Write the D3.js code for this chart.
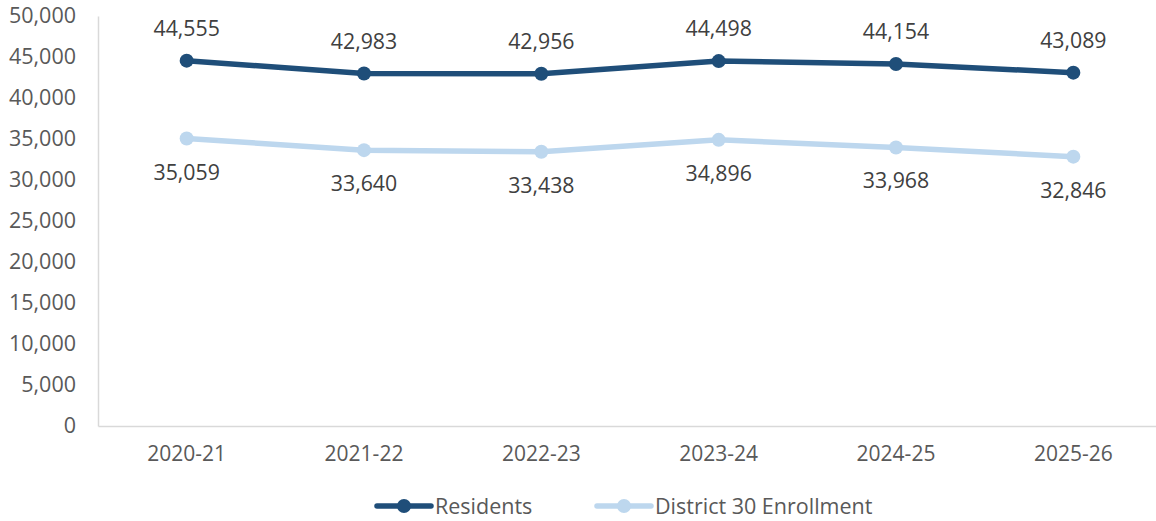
<!DOCTYPE html>
<html>
<head>
<meta charset="utf-8">
<script src="https://cdn.jsdelivr.net/npm/d3@7"></script>
<style>
  body { margin: 0; background: #fff; }
  svg { display: block; }
  svg text { font-family: "Open Sans", sans-serif; }
</style>
</head>
<body>
<div class="chart"></div>
<script>
// chart values
const years = ['2020-21', '2021-22', '2022-23', '2023-24', '2024-25', '2025-26'];
const residents = [44555, 42983, 42956, 44498, 44154, 43089];
const enrollment = [35059, 33640, 33438, 34896, 33968, 32846];
const yTicks = [0, 5000, 10000, 15000, 20000, 25000, 30000, 35000, 40000, 45000, 50000];
const seriesNames = ['Residents', 'District 30 Enrollment'];

const width = 1156, height = 521;
const margin = {top: 16, left: 98, right: -6, bottom: 95};

const svg = d3.select('.chart').append('svg')
    .attr('width', width)
    .attr('height', height);

const x = d3.scaleBand()
    .domain(years)
    .range([margin.left, width - margin.right]);

const y = d3.scaleLinear()
    .domain([0, 50000])
    .range([height - margin.bottom, margin.top]);

const fmt = d3.format(',');

// y axis
const yAxis = svg.append('g')
    .attr('transform', `translate(${margin.left},0)`)
    .call(d3.axisLeft(y).tickValues(yTicks).tickFormat(fmt).tickSize(0).tickPadding(22));
yAxis.attr('font-family', null);
yAxis.select('.domain').attr('stroke', '#d9d9d9').attr('stroke-width', 1.5);
yAxis.selectAll('text')
    .style('font-size', '21.5px')
    .attr('fill', '#595959');

// x axis
const xAxis = svg.append('g')
    .attr('transform', `translate(0,${y(0)})`)
    .call(d3.axisBottom(x).tickSize(0).tickPadding(20));
xAxis.attr('font-family', null);
xAxis.select('.domain').attr('stroke', '#d9d9d9').attr('stroke-width', 1.5);
xAxis.selectAll('text')
    .style('font-size', '21px')
    .attr('fill', '#595959');

const series = [
    {name: seriesNames[0], values: residents, color: '#1f4e79', dy: -25},
    {name: seriesNames[1], values: enrollment, color: '#bdd7ee', dy: 41}
];

const line = d3.line()
    .x((d, i) => x(years[i]) + x.bandwidth() / 2)
    .y(d => y(d));

series.forEach(s => {
    const g = svg.append('g').attr('class', 'series');
    g.append('path')
        .attr('d', line(s.values))
        .attr('fill', 'none')
        .attr('stroke', s.color)
        .attr('stroke-width', 5.5)
        .attr('stroke-linejoin', 'round');
    g.selectAll('circle')
        .data(s.values)
        .enter().append('circle')
        .attr('cx', (d, i) => x(years[i]) + x.bandwidth() / 2)
        .attr('cy', d => y(d))
        .attr('r', 7)
        .attr('fill', s.color);
    g.selectAll('text')
        .data(s.values)
        .enter().append('text')
        .attr('x', (d, i) => x(years[i]) + x.bandwidth() / 2)
        .attr('y', d => y(d) + s.dy)
        .attr('text-anchor', 'middle')
        .style('font-size', '21.3px')
        .attr('fill', '#404040')
        .text(d => fmt(d));
});

// legend
const legend = svg.append('g').attr('class', 'legend');
const legendX = [377, 597];
series.forEach((s, i) => {
    const lg = legend.append('g').attr('transform', `translate(${legendX[i]},506)`);
    lg.append('line')
        .attr('x1', 0).attr('x2', 54)
        .attr('stroke', s.color)
        .attr('stroke-width', 5.5)
        .attr('stroke-linecap', 'round');
    lg.append('circle')
        .attr('cx', 27)
        .attr('r', 7)
        .attr('fill', s.color);
    lg.append('text')
        .attr('x', 58)
        .attr('dy', '0.35em')
        .style('font-size', '21.5px')
        .attr('fill', '#595959')
        .text(s.name);
});
</script>
</body>
</html>
